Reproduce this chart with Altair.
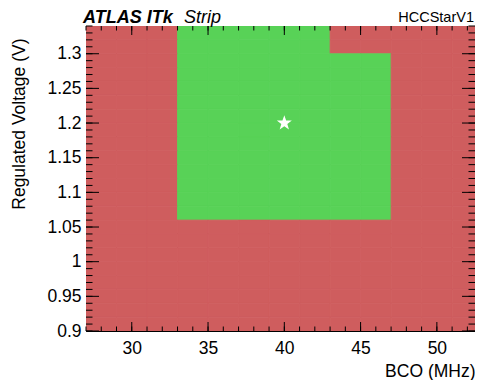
import altair as alt
import pandas as pd

# --- data ---
bco_centers = [28, 30, 32, 34, 36, 38, 40, 42, 44, 46, 48, 50, 52]
voltage_centers = [1.33, 1.31, 1.29, 1.27, 1.25, 1.23, 1.21, 1.19, 1.17, 1.15, 1.13,
                   1.11, 1.09, 1.07, 1.05, 1.03, 1.01, 0.99, 0.97, 0.95, 0.93, 0.91]
# P = pass, F = fail ; one string per voltage row (top to bottom), one char per BCO bin
grid_rows = [
    "FFFPPPPPFFFFF",
    "FFFPPPPPFFFFF",
    "FFFPPPPPPPFFF",
    "FFFPPPPPPPFFF",
    "FFFPPPPPPPFFF",
    "FFFPPPPPPPFFF",
    "FFFPPPPPPPFFF",
    "FFFPPPPPPPFFF",
    "FFFPPPPPPPFFF",
    "FFFPPPPPPPFFF",
    "FFFPPPPPPPFFF",
    "FFFPPPPPPPFFF",
    "FFFPPPPPPPFFF",
    "FFFPPPPPPPFFF",
    "FFFFFFFFFFFFF",
    "FFFFFFFFFFFFF",
    "FFFFFFFFFFFFF",
    "FFFFFFFFFFFFF",
    "FFFFFFFFFFFFF",
    "FFFFFFFFFFFFF",
    "FFFFFFFFFFFFF",
    "FFFFFFFFFFFFF",
]
bco_bin_width = 2.0
voltage_bin_width = 0.02
nominal_bco = [40]
nominal_voltage = [1.2]

x_major = [30, 35, 40, 45, 50]
x_minor = list(range(27, 53))
y_major = [0.9, 0.95, 1.0, 1.05, 1.1, 1.15, 1.2, 1.25, 1.3]
y_minor = [round(0.9 + 0.01 * i, 2) for i in range(45)]

x_domain = [27, 52.5]
y_domain = [0.9, 1.34]

annotation_texts = ["ATLAS ITk", "Strip", "HCCStarV1"]

STAR_PATH = ("M0,-1L0.235,-0.324L0.951,-0.309L0.380,0.124L0.588,0.809L0,0.4"
             "L-0.588,0.809L-0.380,0.124L-0.951,-0.309L-0.235,-0.324Z")

# --- build tables ---
rows = []
for vi, v in enumerate(voltage_centers):
    for bi, b in enumerate(bco_centers):
        rows.append({
            "x0": b - bco_bin_width / 2, "x1": b + bco_bin_width / 2,
            "y0": round(v - voltage_bin_width / 2, 3), "y1": round(v + voltage_bin_width / 2, 3),
            "status": "pass" if grid_rows[vi][bi] == "P" else "fail",
        })
cells = pd.DataFrame(rows)

W, H = 389, 305
FONT = "Liberation Sans"
FS = 17.5
GREEN = "#58D257"
RED = "#CF5D5E"

xs = alt.Scale(domain=x_domain, nice=False, zero=False)
ys = alt.Scale(domain=y_domain, nice=False, zero=False)
cscale = alt.Scale(domain=["pass", "fail"], range=[GREEN, RED])

x_axis = alt.Axis(
    values=x_major, ticks=False, domain=False, grid=False, labelOverlap=False,
    labelFont=FONT, labelFontSize=FS, labelColor="black", labelPadding=8,
    title="BCO (MHz)", titleFont=FONT, titleFontSize=FS, titleFontWeight="normal",
    titleColor="black", titleAlign="right",
    titleBaseline="alphabetic", titleX=W, titleY=45)
y_axis = alt.Axis(
    values=y_major, format="~g", ticks=False, domain=False, grid=False,
    labelOverlap=False,
    labelFont=FONT, labelFontSize=FS, labelColor="black", labelPadding=5,
    title="Regulated Voltage (V)", titleFont=FONT, titleFontSize=FS,
    titleFontWeight="normal", titleColor="black", titleAngle=270,
    titleAlign="right", titleBaseline="alphabetic", titleX=-62, titleY=12)

heat = alt.Chart(cells).mark_rect(strokeWidth=0.8, clip=True).encode(
    x=alt.X("x0:Q", scale=xs, axis=x_axis),
    x2="x1:Q",
    y=alt.Y("y0:Q", scale=ys, axis=y_axis),
    y2="y1:Q",
    color=alt.Color("status:N", scale=cscale, legend=None),
    stroke=alt.Stroke("status:N", scale=cscale, legend=None),
)

star = alt.Chart(pd.DataFrame({"bco": nominal_bco, "v": nominal_voltage})).mark_point(
    shape=STAR_PATH, filled=True, color="white", opacity=1, size=250
).encode(x=alt.X("bco:Q", scale=xs, axis=x_axis), y=alt.Y("v:Q", scale=ys, axis=y_axis))


def xticks(vals, length):
    d = pd.DataFrame({"t": vals})
    base = alt.Chart(d).mark_rule(color="black", strokeWidth=1)
    bottom = base.encode(x=alt.X("t:Q", scale=xs, axis=x_axis), y=alt.value(H), y2=alt.value(H - length))
    top = base.encode(x=alt.X("t:Q", scale=xs, axis=x_axis), y=alt.value(0), y2=alt.value(length))
    return [bottom, top]


def yticks(vals, length):
    d = pd.DataFrame({"t": vals})
    base = alt.Chart(d).mark_rule(color="black", strokeWidth=1)
    left = base.encode(y=alt.Y("t:Q", scale=ys, axis=y_axis), x=alt.value(0), x2=alt.value(length))
    right = base.encode(y=alt.Y("t:Q", scale=ys, axis=y_axis), x=alt.value(W), x2=alt.value(W - length))
    return [left, right]


tick_layers = xticks(x_major, 9) + xticks(x_minor, 4.5) + yticks(y_major, 13) + yticks(y_minor, 6.5)

ann = pd.DataFrame({"txt": annotation_texts})
atlas = alt.Chart(ann).transform_filter(alt.datum.txt == annotation_texts[0]).mark_text(
    font=FONT, fontSize=18, fontStyle="italic", fontWeight="bold", align="left",
    baseline="alphabetic", color="black").encode(
    x=alt.value(-3), y=alt.value(-3.5), text="txt:N")
strip = alt.Chart(ann).transform_filter(alt.datum.txt == annotation_texts[1]).mark_text(
    font=FONT, fontSize=18, fontStyle="italic", align="left",
    baseline="alphabetic", color="black").encode(
    x=alt.value(98), y=alt.value(-3.5), text="txt:N")
hcc = alt.Chart(ann).transform_filter(alt.datum.txt == annotation_texts[2]).mark_text(
    font=FONT, fontSize=14.5, align="right",
    baseline="alphabetic", color="black").encode(
    x=alt.value(W - 1), y=alt.value(-4), text="txt:N")

chart = alt.layer(heat, star, *tick_layers, atlas, strip, hcc).properties(
    width=W, height=H,
    padding={"left": 78, "top": 18, "right": 0, "bottom": 49},
    autosize=alt.AutoSizeParams(type="none"),
    background="white",
).configure_view(stroke="black", strokeWidth=1)

chart.save("out.html", embed_options={"renderer": "svg", "actions": False})
